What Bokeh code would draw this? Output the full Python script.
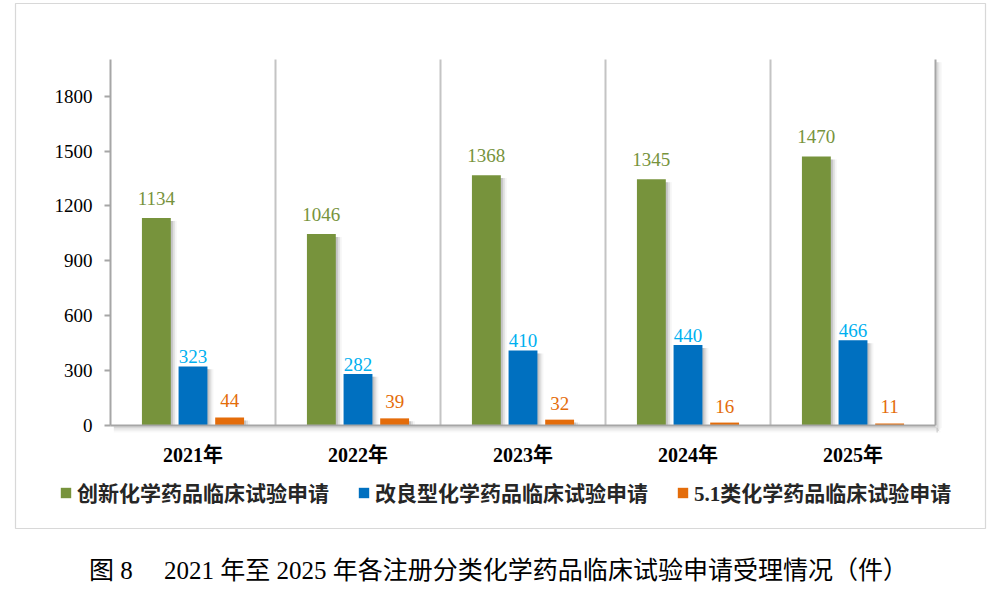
from bokeh.plotting import figure
from bokeh.models import (Range1d, FixedTicker, ColumnDataSource, LabelSet,
                          Legend, LegendItem, BoxAnnotation, Label)
from bokeh.transform import dodge
from bokeh.embed import file_html
from bokeh.resources import INLINE

# ---- data -------------------------------------------------------------
years = ["2021年", "2022年", "2023年", "2024年", "2025年"]
innovative = [1134, 1046, 1368, 1345, 1470]   # 创新化学药品
improved = [323, 282, 410, 440, 466]          # 改良型化学药品
class51 = [44, 39, 32, 16, 11]                # 5.1类化学药品
y_ticks = [0, 300, 600, 900, 1200, 1500, 1800]
series_names = ["创新化学药品临床试验申请", "改良型化学药品临床试验申请", "5.1类化学药品临床试验申请"]
caption = "图 8 \u30002021 年至 2025 年各注册分类化学药品临床试验申请受理情况（件）"

# ---- styling ------------------------------------------------------------
SERIF = "Liberation Serif, Noto Sans CJK SC"
bar_colors = ["#77933C", "#0070C0", "#E46C0A"]
label_colors = ["#77933C", "#00B0F0", "#E46C0A"]
label_lift = [13, 3, 10]
offsets = [-0.222, 0.0, 0.222]
bar_w = 0.175
n = len(years)
y_top = 2000
centers = [i + 0.5 for i in range(n)]
PX_X = 165.0            # pixels per year column
PX_Y = 366.0 / y_top    # pixels per application

source = ColumnDataSource(dict(
    xc=centers,
    s0=innovative, s1=improved, s2=class51,
    t0=[str(v) for v in innovative],
    t1=[str(v) for v in improved],
    t2=[str(v) for v in class51],
    h0=[max(v - 16, 0) for v in innovative],
    h1=[max(v - 16, 0) for v in improved],
    h2=[max(v - 16, 0) for v in class51],
))

# The frame covers the whole page; axes are pinned at x = 0 and y = 0.
p = figure(width=990, height=593,
           x_range=Range1d(-110 / PX_X, n + 55 / PX_X),
           y_range=Range1d(-168 / PX_Y, y_top + 59 / PX_Y),
           output_backend="svg", toolbar_location=None, min_border=0)
p.background_fill_color = "white"
p.border_fill_color = "white"
p.outline_line_color = None
p.grid.visible = False

# y axis
p.yaxis.fixed_location = 0
p.yaxis.ticker = FixedTicker(ticks=y_ticks)
p.yaxis.bounds = (0, y_top)
p.yaxis.minor_tick_line_color = None
p.yaxis.axis_line_color = "#A6A6A6"
p.yaxis.axis_line_width = 2
p.yaxis.major_tick_line_color = "#A6A6A6"
p.yaxis.major_tick_line_width = 2
p.yaxis.major_tick_out = 6
p.yaxis.major_tick_in = 0
p.yaxis.major_label_standoff = 12
p.yaxis.major_label_text_font = SERIF
p.yaxis.major_label_text_font_size = "19px"
p.yaxis.major_label_text_color = "black"

# x axis: one label per year at the centre of its column
p.xaxis.fixed_location = 0
p.xaxis.ticker = FixedTicker(ticks=centers)
p.xaxis.bounds = (0, n)
p.xaxis.major_label_overrides = {c: y for c, y in zip(centers, years)}
p.xaxis.axis_line_color = "#A6A6A6"
p.xaxis.axis_line_width = 2
p.xaxis.major_tick_line_color = None
p.xaxis.minor_tick_line_color = None
p.xaxis.major_label_standoff = 12
p.xaxis.major_label_text_font = SERIF
p.xaxis.major_label_text_font_size = "20px"
p.xaxis.major_label_text_font_style = "bold"
p.xaxis.major_label_text_color = "black"

# frame around chart and legend
p.add_layout(BoxAnnotation(left=15, right=985, top=590, bottom=65,
                           left_units="screen", right_units="screen",
                           top_units="screen", bottom_units="screen",
                           fill_alpha=0, line_color="#7F7F7F", line_width=1.2))

# soft shadow along the right and bottom edges of the plot area
for i, a in enumerate([0.32, 0.2, 0.11, 0.05]):
    p.add_layout(BoxAnnotation(left=n + 0.006 + i * 0.008, right=n + 0.014 + i * 0.008,
                               top=y_top - 15, bottom=-38 + i * 8,
                               fill_color="#7F7F7F", fill_alpha=a, line_color=None))
    p.add_layout(BoxAnnotation(left=0.02, right=n + 0.006 + i * 0.008,
                               top=-6 - i * 8, bottom=-14 - i * 8,
                               fill_color="#7F7F7F", fill_alpha=a, line_color=None))

# column separators and right edge of the plot area
sep_x = list(range(1, n))
p.segment(x0=sep_x, y0=0, x1=sep_x, y1=y_top, line_color="#C4C4C4", line_width=2)
p.segment(x0=[n], y0=0, x1=[n], y1=y_top, line_color="#A6A6A6", line_width=2)

# bars with drop shadows
renderers = []
for k in range(3):
    for j, a in enumerate([0.30, 0.18, 0.08]):
        p.vbar(x=dodge("xc", offsets[k] + 0.012 * (j + 1)),
               top=f"h{k}", bottom=0, width=bar_w, source=source,
               fill_color="#808080", fill_alpha=a, line_color=None)
for k in range(3):
    r = p.vbar(x=dodge("xc", offsets[k]), top=f"s{k}", bottom=0,
               width=bar_w, source=source, fill_color=bar_colors[k], line_color=None)
    renderers.append(r)
    p.add_layout(LabelSet(x=dodge("xc", offsets[k]), y=f"s{k}",
                          text=f"t{k}", source=source, y_offset=label_lift[k],
                          text_align="center", text_baseline="alphabetic",
                          text_font=SERIF, text_font_size="19px",
                          text_color=label_colors[k]))

legend = Legend(items=[LegendItem(label=series_names[k], renderers=[renderers[k]]) for k in range(3)],
                orientation="horizontal", location=(59, 86),
                glyph_width=13, glyph_height=13, label_standoff=5, spacing=28,
                padding=0, margin=0, border_line_color=None, background_fill_alpha=0,
                label_text_font=SERIF, label_text_font_size="21px",
                label_text_font_style="bold", label_text_color="#262626")
p.add_layout(legend)

# figure caption under the framed chart
p.add_layout(Label(x=498, y=23, x_units="screen", y_units="screen", text=caption,
                   text_align="center", text_baseline="middle",
                   text_font=SERIF, text_font_size="25px", text_color="black"))

open("out.html", "w").write(file_html(p, INLINE))
